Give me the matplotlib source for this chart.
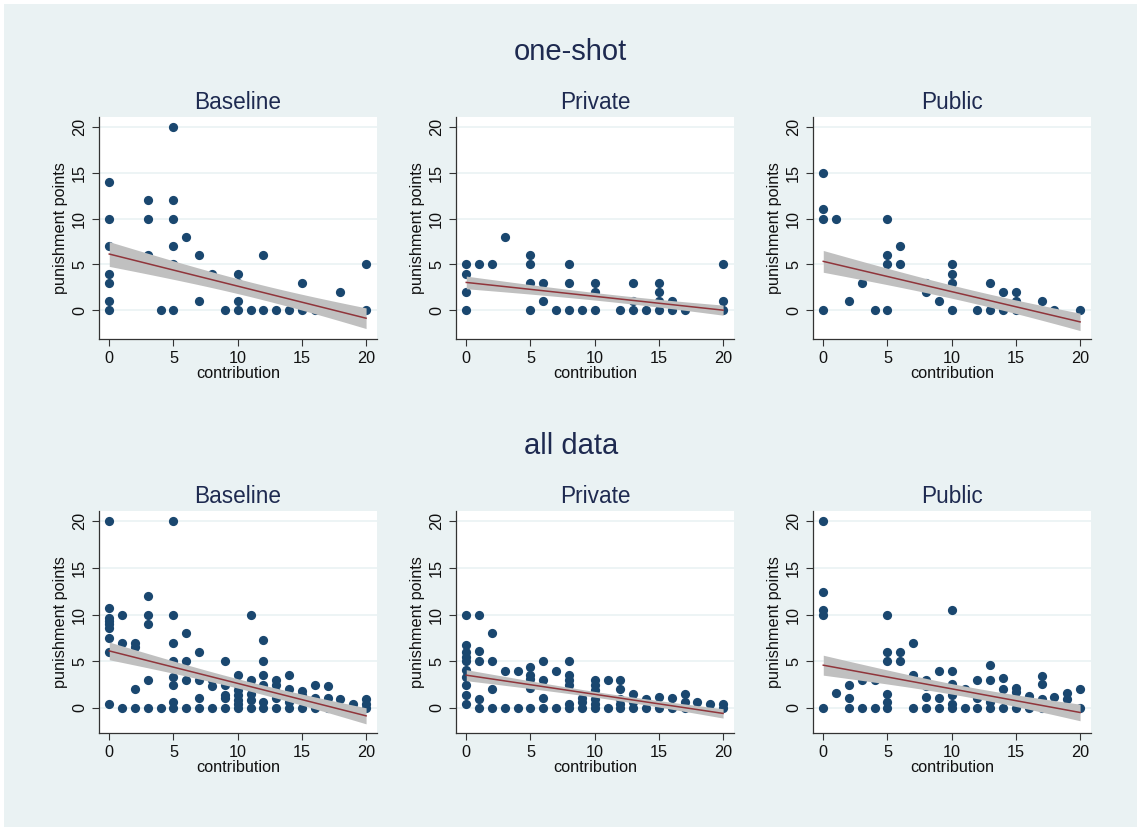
import numpy as np
import matplotlib
matplotlib.use("Agg")
from matplotlib import pyplot as plt
from matplotlib.patches import Rectangle

plt.rcParams['font.family'] = ['Liberation Sans', 'DejaVu Sans']

groups = ["one-shot", "all data"]
treatments = ["Baseline", "Private", "Public"]

# (contribution, punishment points)
oneshot_baseline_x = [0, 0, 0, 0, 0, 0, 0, 3, 3, 3, 4, 5, 5, 5, 5, 5, 5, 6, 7, 7, 8, 9,
                      10, 10, 10, 10, 11, 12, 12, 13, 14, 15, 15, 16, 18, 20, 20]
oneshot_baseline_y = [14, 10, 7, 4, 3, 1, 0, 12, 10, 6, 0, 20, 12, 10, 7, 5, 0, 8, 6, 1, 4, 0,
                      4, 3, 1, 0, 0, 6, 0, 0, 0, 3, 0, 0, 2, 5, 0]

oneshot_private_x = [0, 0, 0, 0, 1, 2, 3, 5, 5, 5, 5, 6, 6, 7, 8, 8, 8, 9, 10, 10, 10,
                     12, 13, 13, 13, 14, 15, 15, 15, 15, 16, 16, 17, 20, 20, 20]
oneshot_private_y = [5, 4, 2, 0, 5, 5, 8, 6, 5, 3, 0, 3, 1, 0, 5, 3, 0, 0, 3, 2, 0,
                     0, 3, 1, 0, 0, 3, 2, 1, 0, 1, 0, 0, 5, 1, 0]

oneshot_public_x = [0, 0, 0, 0, 1, 2, 3, 4, 5, 5, 5, 5, 6, 6, 8, 8, 9, 10, 10, 10, 10,
                    12, 13, 13, 14, 14, 15, 15, 15, 17, 18, 20]
oneshot_public_y = [15, 11, 10, 0, 10, 1, 3, 0, 10, 6, 5, 0, 7, 5, 3, 2, 1, 5, 4, 3, 0,
                    0, 3, 0, 2, 0, 2, 1, 0, 1, 0, 0]

all_baseline_x = [0, 0, 0, 0, 0, 0, 0, 0, 0, 1, 1, 1, 2, 2, 2, 2, 3, 3, 3, 3, 3, 4,
                  5, 5, 5, 5, 5, 5, 5, 5, 6, 6, 6, 6, 7, 7, 7, 7, 8, 8, 8,
                  9, 9, 9, 9, 9, 10, 10, 10, 10, 10, 10, 10,
                  11, 11, 11, 11, 11, 11, 12, 12, 12, 12, 12, 12,
                  13, 13, 13, 13, 13, 14, 14, 14, 14, 14, 15, 15, 15, 15,
                  16, 16, 16, 17, 17, 17, 18, 18, 19, 20, 20, 20]
all_baseline_y = [20, 10.7, 9.6, 9.3, 9.0, 8.6, 7.5, 6, 0.4, 10, 7, 0, 7, 6.5, 2, 0,
                  12, 10, 9, 3, 0, 0,
                  20, 10, 7, 5, 3.3, 2.4, 0.6, 0, 8, 5, 3, 0, 6, 3, 1, 0, 3, 2.3, 0,
                  5, 2.4, 1.4, 1, 0, 3.5, 2.4, 1.9, 1.4, 0.8, 0.4, 0,
                  10, 3, 2.3, 1.5, 0.8, 0, 7.3, 5, 3.5, 2.4, 0.6, 0,
                  3, 2.4, 1.7, 1, 0, 3.5, 2, 1.2, 0.6, 0, 1.8, 1.4, 0.8, 0,
                  2.4, 1, 0, 2.3, 1, 0, 0.9, 0, 0.4, 0.9, 0.4, 0]

all_private_x = [0, 0, 0, 0, 0, 0, 0, 0, 0, 0, 1, 1, 1, 1, 1, 2, 2, 2, 2, 3, 3, 4, 4,
                 5, 5, 5, 5, 5, 6, 6, 6, 6, 7, 7, 8, 8, 8, 8, 8, 8, 9, 9, 9,
                 10, 10, 10, 10, 10, 10, 11, 11, 12, 12, 12, 12, 12,
                 13, 13, 13, 14, 14, 15, 15, 16, 16, 17, 17, 17, 18, 19, 20, 20]
all_private_y = [10, 6.7, 6, 5.5, 5, 4.1, 3.3, 2.4, 1.4, 0.4, 10, 6.1, 5, 0.9, 0,
                 8, 5, 2, 0, 4, 0, 4, 0,
                 4.4, 3.5, 3.1, 2.1, 0, 5, 3, 1, 0, 4, 0, 5, 3.5, 3, 2.4, 0.4, 0,
                 1.1, 0.6, 0,
                 3, 2.4, 1.9, 0.9, 0.4, 0, 3, 0, 3, 2, 0.9, 0.4, 0,
                 1.5, 0.6, 0, 0.9, 0, 1.2, 0, 1, 0, 1.5, 0.6, 0, 0.6, 0.4, 0.4, 0]

all_public_x = [0, 0, 0, 0, 0, 1, 2, 2, 2, 3, 3, 4, 4, 5, 5, 5, 5, 5, 5, 6, 6,
                7, 7, 7, 8, 8, 8, 8, 9, 9, 9, 10, 10, 10, 10, 10, 10, 11, 11,
                12, 12, 12, 13, 13, 13, 13, 14, 14, 14, 15, 15, 15, 16, 16,
                17, 17, 17, 17, 18, 19, 19, 20, 20]
all_public_y = [20, 12.4, 10.5, 9.9, 0, 1.6, 2.4, 1, 0, 3, 0, 3, 0,
                10, 6, 5, 1.5, 0.6, 0, 6, 5, 7, 3.5, 0, 3, 2.3, 1.2, 0, 4, 1, 0,
                10.5, 4, 2.5, 1.4, 0.4, 0, 2, 0, 3, 1, 0, 4.6, 3, 0.6, 0,
                3.2, 2, 0, 2.1, 1.7, 0, 1.3, 0, 3.4, 2.6, 0.9, 0, 1.2, 1.6, 0.9, 2, 0]

# linear fit: value at contribution 0 and 20,
# and half-width of the 95% band at 0, at its narrowest, and at 20
# order: one-shot B/Pr/Pu, all data B/Pr/Pu
fit_at_0 = [6.13, 3.03, 5.33, 6.10, 3.50, 4.57]
fit_at_20 = [-0.88, 0.00, -1.28, -0.86, -0.60, -0.50]
band_at_0 = [1.35, 0.69, 1.19, 0.95, 0.59, 1.07]
band_min = [0.80, 0.40, 0.70, 0.50, 0.30, 0.55]
band_at_20 = [1.13, 0.55, 0.95, 0.86, 0.50, 0.89]

panels = [
    [(oneshot_baseline_x, oneshot_baseline_y), (oneshot_private_x, oneshot_private_y),
     (oneshot_public_x, oneshot_public_y)],
    [(all_baseline_x, all_baseline_y), (all_private_x, all_private_y),
     (all_public_x, all_public_y)],
]

BG = "#eaf2f3"
NAVY = "#1a476f"
MAROON = "#90353b"
TITLE = "#1e2a50"

W, H = 1137, 827
fig = plt.figure(figsize=(W / 100, H / 100), dpi=100, facecolor="white")
fig.patches.append(Rectangle((4 / W, 0), 1, 1 - 4 / H, transform=fig.transFigure,
                             facecolor=BG, edgecolor="none", zorder=-10))

lefts = [99, 456, 813]
tops = [117, 511]
pw, ph = 278, 222
ylims = [(-3.15, 21.1), (-2.7, 21.1)]


def band(i, xs):
    fit = fit_at_0[i] + (fit_at_20[i] - fit_at_0[i]) * xs / 20
    h0, hm, h20 = band_at_0[i], band_min[i], band_at_20[i]
    r = np.sqrt((h0 ** 2 - hm ** 2) / (h20 ** 2 - hm ** 2))
    xm = 20 * r / (1 + r)
    k = (h0 ** 2 - hm ** 2) / xm ** 2
    h = np.sqrt(hm ** 2 + k * (xs - xm) ** 2)
    return fit, fit - h, fit + h


for r, group in enumerate(groups):
    top_px = tops[r]
    fig.text(0.502, 1 - (top_px - 65) / H, group, ha="center", va="center",
             fontsize=21, color=TITLE)
    for c, name in enumerate(treatments):
        i = r * 3 + c
        ax = fig.add_axes([lefts[c] / W, 1 - (top_px + ph) / H, pw / W, ph / H])
        x, y = panels[r][c]
        xs = np.linspace(0, 20, 60)
        fit, lo, hi = band(i, xs)
        ax.fill_between(xs, lo, hi, color="#c0c0c0", lw=0, zorder=2)
        ax.scatter(x, y, s=44, color=NAVY, lw=0, zorder=1)
        ax.plot(xs, fit, color=MAROON, lw=1.1, zorder=3)
        ax.set_xlim(-0.8, 20.85)
        ax.set_ylim(*ylims[r])
        ax.set_xticks([0, 5, 10, 15, 20])
        ax.set_yticks([0, 5, 10, 15, 20])
        ax.yaxis.grid(True, color=BG, lw=1.2, zorder=0)
        ax.set_axisbelow(True)
        for side in ["top", "right"]:
            ax.spines[side].set_visible(False)
        for side in ["left", "bottom"]:
            ax.spines[side].set_color("#333333")
            ax.spines[side].set_linewidth(0.9)
        ax.tick_params(direction="out", length=5, width=0.8, color="#333333",
                       labelsize=11.7, labelcolor="#111111")
        plt.setp(ax.get_yticklabels(), rotation=90, va="center")
        ax.set_xlabel("contribution", fontsize=11.7, labelpad=0, color="#111111")
        ax.set_ylabel("punishment points", fontsize=11.7, labelpad=3, color="#111111")
        ax.set_title(name, fontsize=16.3, color=TITLE, pad=6)

fig.savefig("out.png", dpi=100, facecolor=fig.get_facecolor())
